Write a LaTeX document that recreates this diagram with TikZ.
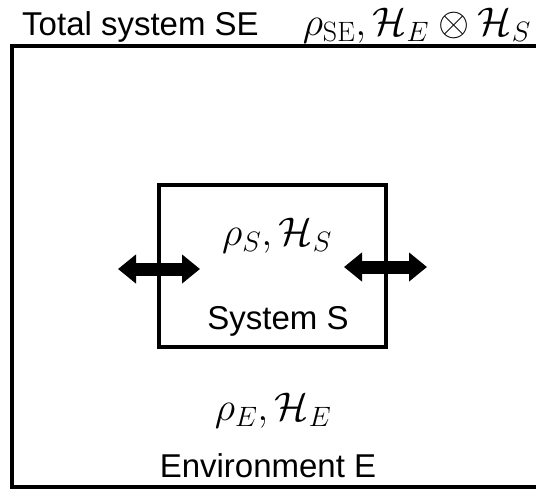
\RequirePackage{fix-cm}
\documentclass[tikz,border=0pt]{standalone}
\usepackage{fontspec}
\newfontfamily\labelfont{Liberation Sans}
\usetikzlibrary{arrows.meta}

\tikzset{
  frame/.style={line width=4.5pt},
  sysbox/.style={line width=4.5pt},
  exchange/.style={line width=13pt,
    {Triangle[length=18pt,width=28pt]}-{Triangle[length=18pt,width=28pt]}},
  txt/.style={inner sep=0pt, font=\labelfont\fontsize{33}{40}\selectfont},
  eq/.style={inner sep=0pt, font=\fontsize{40}{48}\selectfont}
}

\begin{document}
\begin{tikzpicture}[x=1pt,y=-1pt]
  \useasboundingbox (0,0) rectangle (536,491);

  % environment frame, open on the right
  \coordinate (ftr) at (536,46);
  \coordinate (ftl) at (12,46);
  \coordinate (fbl) at (12,487);
  \coordinate (fbr) at (536,487);
  \draw[frame, line join=miter] (ftr) -- (ftl) -- (fbl) -- (fbr);

  % system box
  \coordinate (snw) at (159,185);
  \coordinate (sse) at (386,347);
  \draw[sysbox] (snw) rectangle (sse);

  % exchange arrows across the system boundary
  \coordinate (la) at (118,269);
  \coordinate (lb) at (200,269);
  \coordinate (ra) at (344,267);
  \coordinate (rb) at (427,267);
  \draw[exchange] (la) -- (lb);
  \draw[exchange] (ra) -- (rb);

  % labels
  \node[txt, anchor=base west] (title) at (22,35) {Total system SE};
  \node[eq, anchor=base east] (titleq) at (531,35)
    {$\rho_{\mathrm{SE}},\mathcal{H}_E\otimes\mathcal{H}_S$};
  \node[eq, anchor=base] (sq) at (277,245) {$\rho_S,\mathcal{H}_S$};
  \node[txt, anchor=base] (sname) at (278,329) {System S};
  \node[eq, anchor=base] (eqe) at (273,420) {$\rho_E,\mathcal{H}_E$};
  \node[txt, anchor=base] (ename) at (268,477) {Environment E};
\end{tikzpicture}
\end{document}
